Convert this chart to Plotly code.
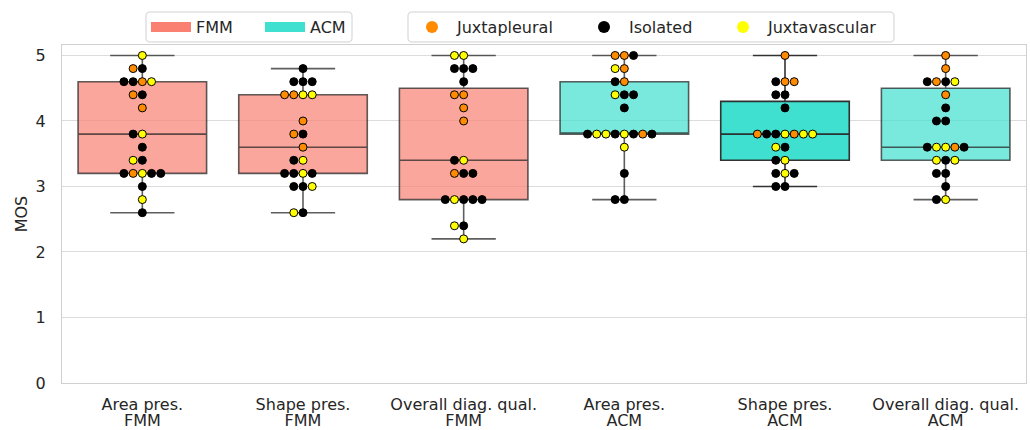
import numpy as np
import plotly.graph_objects as go

# ---------------- data ----------------
cat_line1 = ["Area pres.", "Shape pres.", "Overall diag. qual.",
             "Area pres.", "Shape pres.", "Overall diag. qual."]
methods = ["FMM", "FMM", "FMM", "ACM", "ACM", "ACM"]

# nodule type codes: J = Juxtapleural, I = Isolated, V = Juxtavascular
area_fmm_scores = [5.0, 4.8, 4.8, 4.6, 4.6, 4.6, 4.6, 4.4, 4.4, 4.2, 3.8, 3.8, 3.6,
                   3.4, 3.4, 3.2, 3.2, 3.2, 3.2, 3.2, 3.0, 2.8, 2.6]
area_fmm_types = list("V" "JI" "IIJV" "JI" "J" "IV" "I" "VI" "IJVII" "I" "V" "I")

shape_fmm_scores = [4.8, 4.6, 4.6, 4.6, 4.4, 4.4, 4.4, 4.4, 4.0, 3.8, 3.8, 3.6,
                    3.4, 3.4, 3.2, 3.2, 3.2, 3.2, 3.0, 3.0, 3.0, 2.6, 2.6]
shape_fmm_types = list("I" "III" "JJVV" "J" "JI" "J" "IV" "IIVI" "IIV" "VI")

overall_fmm_scores = [5.0, 5.0, 4.8, 4.8, 4.8, 4.6, 4.4, 4.4, 4.2, 4.0, 3.4, 3.4,
                      3.2, 3.2, 3.2, 2.8, 2.8, 2.8, 2.8, 2.8, 2.4, 2.4, 2.2]
overall_fmm_types = list("VV" "III" "I" "JJ" "J" "J" "IV" "JII" "IVIII" "VI" "V")

area_acm_scores = [5.0, 5.0, 5.0, 4.8, 4.8, 4.6, 4.6, 4.4, 4.4, 4.4, 4.2,
                   3.8, 3.8, 3.8, 3.8, 3.8, 3.8, 3.8, 3.8, 3.6, 3.2, 2.8, 2.8]
area_acm_types = list("JJI" "VJ" "IJ" "VII" "I" "IVVIVIJI" "V" "I" "II")

shape_acm_scores = [5.0, 4.6, 4.6, 4.6, 4.4, 4.4, 4.2, 3.8, 3.8, 3.8, 3.8, 3.8, 3.8,
                    3.8, 3.6, 3.6, 3.4, 3.4, 3.2, 3.2, 3.2, 3.0, 3.0]
shape_acm_types = list("J" "IJJ" "II" "I" "JIIVJVV" "VI" "IV" "IVI" "II")

overall_acm_scores = [5.0, 4.8, 4.6, 4.6, 4.6, 4.6, 4.4, 4.2, 4.0, 4.0, 3.6, 3.6,
                      3.6, 3.6, 3.6, 3.4, 3.4, 3.4, 3.2, 3.2, 3.0, 2.8, 2.8]
overall_acm_types = list("J" "J" "IJIV" "J" "I" "II" "IVVJI" "VIV" "II" "I" "IV")

all_scores = [area_fmm_scores, shape_fmm_scores, overall_fmm_scores,
              area_acm_scores, shape_acm_scores, overall_acm_scores]
all_types = [area_fmm_types, shape_fmm_types, overall_fmm_types,
             area_acm_types, shape_acm_types, overall_acm_types]

type_codes = ["J", "I", "V"]
type_names = ["Juxtapleural", "Isolated", "Juxtavascular"]
y_ticks = [0, 1, 2, 3, 4, 5]

# ---------------- styles ----------------
method_colors = {"FMM": (250, 128, 114), "ACM": (64, 224, 208)}
box_alpha = [0.7, 0.7, 0.7, 0.7, 1.0, 0.7]
type_colors = {"J": "#FF8C00", "I": "#000000", "V": "#FFFF00"}
FONT = "DejaVu Sans"
TXT = "#262626"
FS = 16
SWARM_STEP = 0.0573

W, H = 1030, 430
ML, MR, MT, MB = 62, 4, 45, 47
PW, PH = W - ML - MR, H - MT - MB


def px_x(p):
    return (p - ML) / PW


def px_y(p):
    return 1 + (MT - p) / PH


def rounded_rect(x0, x1, y0, y1, r=4):
    # pixel-based rounded rectangle, returned as an SVG path in paper coords
    X = lambda p: f"{px_x(p):.5f}"
    Y = lambda p: f"{px_y(p):.5f}"
    return (f"M {X(x0 + r)} {Y(y0)} L {X(x1 - r)} {Y(y0)} "
            f"Q {X(x1)} {Y(y0)} {X(x1)} {Y(y0 + r)} L {X(x1)} {Y(y1 - r)} "
            f"Q {X(x1)} {Y(y1)} {X(x1 - r)} {Y(y1)} L {X(x0 + r)} {Y(y1)} "
            f"Q {X(x0)} {Y(y1)} {X(x0)} {Y(y1 - r)} L {X(x0)} {Y(y0 + r)} "
            f"Q {X(x0)} {Y(y0)} {X(x0 + r)} {Y(y0)} Z")


fig = go.Figure()

# boxes
for i, (scores, m) in enumerate(zip(all_scores, methods)):
    arr = np.array(scores)
    q1, med, q3 = np.percentile(arr, [25, 50, 75])
    iqr = q3 - q1
    lo = arr[arr >= q1 - 1.5 * iqr].min()
    hi = arr[arr <= q3 + 1.5 * iqr].max()
    r, g, b = method_colors[m]
    a = box_alpha[i]
    fig.add_trace(go.Box(
        x=[i], q1=[q1], median=[med], q3=[q3], lowerfence=[lo], upperfence=[hi],
        width=0.8, whiskerwidth=0.5,
        fillcolor=f"rgba({r},{g},{b},{a})",
        line=dict(color=f"rgba(40,40,40,{0.75 if a < 1 else 0.95})", width=1.6),
        showlegend=False, hoverinfo="skip",
    ))

# swarm points
pts = {c: ([], []) for c in type_codes}
for i, (scores, types) in enumerate(zip(all_scores, all_types)):
    groups = {}
    for s, t in zip(scores, types):
        groups.setdefault(s, []).append(t)
    for s, ts in groups.items():
        n = len(ts)
        for k, t in enumerate(ts):
            off = (k - n // 2) * SWARM_STEP
            pts[t][0].append(i + off)
            pts[t][1].append(s)

for c in type_codes:
    fig.add_trace(go.Scatter(
        x=pts[c][0], y=pts[c][1], mode="markers",
        marker=dict(color=type_colors[c], size=8, line=dict(color="#000000", width=1)),
        showlegend=False, hoverinfo="skip",
    ))

# second line of the category labels on an overlaid axis
fig.add_trace(go.Scatter(x=[None], y=[None], xaxis="x2", showlegend=False))

# legend entries
legend_specs = {}
for m, lx, lname in zip(["FMM", "ACM"], [146, 260], ["legend", "legend5"]):
    r, g, b = method_colors[m]
    fig.add_trace(go.Scatter(
        x=[None], y=[None], mode="lines", name=m,
        line=dict(color=f"rgb({r},{g},{b})", width=14),
        legend=lname,
    ))
    legend_specs[lname] = lx
for c, nm, lx, lname in zip(type_codes, type_names, [407, 579, 718],
                            ["legend2", "legend3", "legend4"]):
    fig.add_trace(go.Scatter(
        x=[None], y=[None], mode="markers", name=nm,
        marker=dict(color=type_colors[c], size=12),
        legend=lname,
    ))
    legend_specs[lname] = lx

layout_legends = {}
for lname, lx in legend_specs.items():
    layout_legends[lname] = dict(
        orientation="h", x=px_x(lx), xanchor="left", y=px_y(27), yanchor="middle",
        borderwidth=0, bgcolor="rgba(0,0,0,0)", itemwidth=40,
        font=dict(family=FONT, size=FS, color=TXT),
    )

frames = [(146, 352), (408, 894)]
shapes = [dict(type="path", xref="paper", yref="paper",
               path=rounded_rect(a, b, 12, 42),
               line=dict(color="#d0d0d0", width=1), fillcolor="white", layer="below")
          for a, b in frames]

fig.update_layout(
    width=W, height=H,
    margin=dict(l=ML, r=MR, t=MT, b=MB, autoexpand=False),
    paper_bgcolor="white", plot_bgcolor="white",
    font=dict(family=FONT, size=FS, color=TXT),
    shapes=shapes,
    **layout_legends,
)
fig.update_layout(
    xaxis=dict(
        range=[-0.5, 5.5], tickmode="array", tickvals=list(range(len(cat_line1))),
        ticktext=cat_line1, showgrid=False, zeroline=False,
        showline=True, mirror=True, linecolor="#d0d0d0", linewidth=1.3,
        ticks="", ticklabelstandoff=7, tickfont=dict(size=FS, color=TXT),
    ),
    xaxis2=dict(
        overlaying="x", side="bottom", matches="x",
        tickmode="array", tickvals=list(range(len(methods))), ticktext=methods,
        showgrid=False, zeroline=False, showline=False, ticks="",
        ticklabelstandoff=26, tickfont=dict(size=FS, color=TXT),
    ),
    yaxis=dict(
        range=[0, 5.16], tickmode="array", tickvals=y_ticks,
        showgrid=True, gridcolor="#dcdcdc", gridwidth=1.2, zeroline=False,
        showline=True, mirror=True, linecolor="#d0d0d0", linewidth=1.3,
        ticks="", ticklabelstandoff=12, tickfont=dict(size=FS, color=TXT),
        title=dict(text="MOS", font=dict(size=FS, color=TXT), standoff=3),
    ),
)

fig.write_html("out.html", config={"displayModeBar": False},
               post_script="document.body.style.margin='0';")
